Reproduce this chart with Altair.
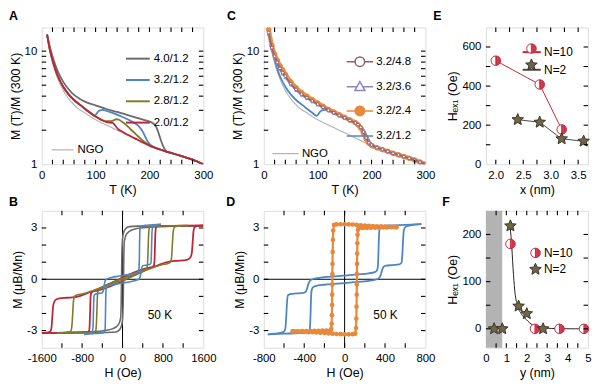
import math
import altair as alt
import pandas as pd

FONT = "Liberation Sans"
W1, W3, H = 163, 103, 138
TICK_LEN = 4.5  # px, inward tick length

# ---------------- colours ----------------
C_G, C_BL, C_OL, C_RD, C_NGO = "#6b6b6b", "#4d86c4", "#7f7b2c", "#c02536", "#b5b5b5"
C_48, C_36, C_24 = "#8c5f74", "#8e86c3", "#e8883a"
C_E10, C_E2L, C_E2S, C_E2F = "#c8283c", "#4a4a40", "#3b3426", "#6f6547"

# ---------------- panel A / C : M(T)/M(300 K) ----------------
T_NGO = [10, 15, 20, 25, 30, 40, 50, 60, 70, 80, 90, 100, 110, 120, 130, 140, 150, 160, 170, 180,
         190, 200, 210, 220, 230, 240, 250, 260, 270, 280, 290, 300]
M_NGO = [13.8, 10.0, 7.9, 6.6, 5.7, 4.5, 3.8, 3.35, 3.05, 2.85, 2.65, 2.48, 2.34, 2.22, 2.11, 2.0,
         1.9, 1.8, 1.71, 1.62, 1.53, 1.45, 1.39, 1.34, 1.29, 1.25, 1.21, 1.17, 1.13, 1.09, 1.045, 1.0]

T_40 = [10, 15, 20, 25, 30, 40, 50, 60, 70, 80, 90, 100, 120, 140, 160, 180, 195, 205, 210, 215,
        220, 225, 230, 240, 250, 260, 270, 280, 290, 300]
M_40 = [14.0, 11.0, 9.0, 7.6, 6.6, 5.35, 4.6, 4.1, 3.8, 3.58, 3.43, 3.32, 3.08, 2.9, 2.72, 2.55,
        2.43, 2.33, 2.22, 2.0, 1.7, 1.46, 1.32, 1.26, 1.22, 1.18, 1.14, 1.1, 1.05, 1.0]

T_32 = [10, 15, 20, 25, 30, 40, 50, 60, 70, 80, 90, 98, 101, 104, 108, 113, 120, 135, 150, 165,
        180, 186, 192, 197, 202, 210, 220, 230, 240, 250, 260, 270, 280, 290, 300]
M_32 = [14.0, 10.4, 8.4, 7.0, 6.0, 4.85, 4.15, 3.7, 3.38, 3.1, 2.85, 2.68, 2.76, 2.9, 3.0, 3.02,
        2.97, 2.8, 2.62, 2.42, 2.17, 2.0, 1.76, 1.58, 1.48, 1.41, 1.35, 1.3, 1.26, 1.22, 1.18,
        1.14, 1.1, 1.05, 1.0]

T_28 = [10, 15, 20, 25, 30, 40, 50, 60, 70, 80, 90, 100, 110, 115, 120, 127, 133, 138, 143, 150,
        157, 165, 175, 185, 193, 200, 210, 220, 230, 240, 250, 260, 270, 280, 290, 300]
M_28 = [14.0, 10.4, 8.4, 7.0, 6.0, 4.85, 4.15, 3.7, 3.38, 3.1, 2.85, 2.64, 2.48, 2.42, 2.4, 2.4,
        2.44, 2.5, 2.48, 2.36, 2.22, 2.04, 1.84, 1.66, 1.55, 1.47, 1.4, 1.35, 1.3, 1.26, 1.22,
        1.18, 1.14, 1.1, 1.05, 1.0]

T_20 = [10, 15, 20, 25, 30, 40, 50, 60, 70, 80, 90, 100, 110, 120, 127, 132, 137, 142, 150, 160,
        170, 180, 190, 200, 210, 220, 230, 240, 250, 260, 270, 280, 290, 300]
M_20 = [14.0, 10.4, 8.4, 7.0, 6.0, 4.85, 4.15, 3.7, 3.38, 3.1, 2.85, 2.64, 2.48, 2.36, 2.33, 2.32,
        2.18, 2.04, 1.94, 1.82, 1.72, 1.63, 1.54, 1.46, 1.4, 1.35, 1.3, 1.26, 1.22, 1.18, 1.14,
        1.1, 1.05, 1.0]

T_C = [9, 15, 20, 25, 30, 35, 40, 50, 60, 70, 80, 90, 100, 110, 120, 130, 140, 150, 160, 170,
       175, 180, 185, 190, 195, 200, 210, 220, 230, 240, 250, 260, 270, 280, 290, 300]
M_24 = [15.5, 11.2, 9.4, 8.3, 7.4, 6.8, 6.25, 5.35, 4.75, 4.3, 3.98, 3.72, 3.48, 3.25, 3.05, 2.89,
        2.74, 2.6, 2.46, 2.33, 2.23, 2.09, 1.89, 1.67, 1.54, 1.47, 1.4, 1.35, 1.3, 1.25, 1.21,
        1.17, 1.13, 1.09, 1.045, 1.0]
M_36 = [14.2, 10.5, 8.8, 7.8, 6.9, 6.3, 5.85, 5.05, 4.5, 4.1, 3.82, 3.58, 3.36, 3.16, 2.98, 2.83,
        2.69, 2.56, 2.44, 2.33, 2.26, 2.16, 1.98, 1.76, 1.58, 1.49, 1.41, 1.35, 1.3, 1.25, 1.21,
        1.17, 1.13, 1.09, 1.045, 1.0]
M_48 = [14.6, 10.7, 9.0, 7.95, 7.05, 6.45, 6.0, 5.15, 4.58, 4.16, 3.88, 3.63, 3.4, 3.19, 3.0, 2.85,
        2.7, 2.57, 2.44, 2.32, 2.24, 2.12, 1.93, 1.71, 1.55, 1.48, 1.4, 1.35, 1.3, 1.25, 1.21,
        1.17, 1.13, 1.09, 1.045, 1.0]

A_NAMES = ["4.0/1.2", "3.2/1.2", "2.8/1.2", "2.0/1.2"]
C_NAMES = ["3.2/4.8", "3.2/3.6", "3.2/2.4", "3.2/1.2"]

# tick positions
T_TICKS = list(range(20, 300, 20))
M_TICKS = [2, 3, 4, 5, 6, 7, 8, 9, 10]

# ---------------- panel B / D : hysteresis loops at 50 K ----------------
HG_up = [-1600, -800, -300, -130, -60, -20, 0, 12, 20, 27, 37, 80, 200, 410, 800, 1600]
MG_up = [-3.13, -3.12, -3.11, -3.08, -2.95, -2.72, -2.35, -1.5, 0.0, 1.5, 2.25, 2.65, 2.9, 3.02, 3.08, 3.13]
HG_dn = [1600, 800, 300, 130, 60, 20, 0, -12, -20, -27, -37, -80, -200, -410, -800, -1600]
MG_dn = [3.13, 3.12, 3.11, 3.08, 2.95, 2.72, 2.35, 1.5, 0.0, -1.5, -2.25, -2.65, -2.9, -3.02, -3.08, -3.13]

HB_up = [-760, -600, -450, -370, -350, -342, -337, -333, -328, -318, -290, -200, -100, 0, 100, 200,
         270, 320, 345, 360, 372, 385, 410, 480, 540, 562, 572, 579, 586, 600, 640, 760]
MB_up = [-3.22, -3.18, -3.15, -3.12, -3.05, -2.7, -2.0, -1.2, -0.7, -0.5, -0.4, -0.32, -0.27, -0.22,
         -0.17, -0.12, -0.06, 0.0, 0.1, 0.3, 0.55, 0.72, 0.8, 0.83, 0.87, 0.95, 1.5, 2.3, 2.85, 3.05,
         3.14, 3.22]
HB_dn = [760, 600, 450, 370, 350, 342, 337, 333, 328, 318, 290, 200, 100, 0, -100, -200,
         -270, -320, -345, -360, -372, -385, -410, -480, -540, -562, -572, -579, -586, -600, -640, -760]
MB_dn = [3.22, 3.18, 3.15, 3.12, 3.05, 2.7, 2.0, 1.2, 0.7, 0.5, 0.4, 0.32, 0.27, 0.22,
         0.17, 0.12, 0.06, 0.0, -0.1, -0.3, -0.55, -0.72, -0.8, -0.83, -0.87, -0.95, -1.5, -2.3, -2.85,
         -3.05, -3.14, -3.22]

HO_up = [-1300, -1000, -700, -560, -530, -515, -505, -495, -480, -400, -200, 0, 200, 400, 600, 780,
         900, 950, 975, 990, 1005, 1030, 1100, 1300]
MO_up = [-3.14, -3.13, -3.11, -3.1, -3.0, -2.5, -1.6, -0.9, -0.65, -0.5, -0.25, -0.05, 0.18, 0.45,
         0.68, 0.85, 0.92, 1.0, 1.4, 2.2, 2.8, 3.05, 3.1, 3.14]
HO_dn = [1300, 1000, 700, 560, 530, 515, 505, 495, 480, 400, 200, 0, -200, -400, -600, -780,
         -900, -950, -975, -990, -1005, -1030, -1100, -1300]
MO_dn = [3.14, 3.13, 3.11, 3.1, 3.0, 2.5, 1.6, 0.9, 0.65, 0.5, 0.25, 0.05, -0.18, -0.45,
         -0.68, -0.85, -0.92, -1.0, -1.4, -2.2, -2.8, -3.05, -3.1, -3.14]

HR_up = [-1600, -1200, -800, -690, -660, -648, -640, -632, -620, -590, -500, -400, -300, -150, 0,
         150, 300, 500, 700, 850, 950, 1100, 1250, 1330, 1370, 1390, 1405, 1430, 1500, 1600]
MR_up = [-3.15, -3.13, -3.12, -3.1, -3.0, -2.5, -1.7, -1.0, -0.8, -0.72, -0.66, -0.58, -0.48, -0.3,
         -0.1, 0.12, 0.32, 0.6, 0.82, 0.98, 1.05, 1.08, 1.12, 1.22, 1.5, 2.2, 2.8, 3.05, 3.12, 3.15]
HR_dn = [1600, 1200, 800, 690, 660, 648, 640, 632, 620, 590, 500, 400, 300, 150, 0,
         -150, -300, -500, -700, -850, -950, -1100, -1250, -1330, -1370, -1390, -1405, -1430, -1500, -1600]
MR_dn = [3.15, 3.13, 3.12, 3.1, 3.0, 2.5, 1.7, 1.0, 0.8, 0.72, 0.66, 0.58, 0.48, 0.3,
         0.1, -0.12, -0.32, -0.6, -0.82, -0.98, -1.05, -1.08, -1.12, -1.22, -1.5, -2.2, -2.8, -3.05,
         -3.12, -3.15]

HOr_dn = [514, 480, 440, 400, 360, 320, 280, 240, 200, 160, 120, 80, 40, 0, -40, -80, -105, -113,
          -116, -118, -120, -121, -122, -123, -124, -126, -128, -132, -140, -180, -220, -260, -300,
          -340, -380, -420, -460, -500, -514]
MOr_dn = [3.05, 3.06, 3.07, 3.08, 3.09, 3.1, 3.11, 3.12, 3.14, 3.16, 3.18, 3.2, 3.21, 3.22, 3.22,
          3.21, 3.18, 2.85, 2.3, 1.6, 0.9, 0.3, -0.3, -0.9, -1.5, -2.1, -2.6, -2.9, -2.98, -3.0,
          -3.0, -3.01, -3.02, -3.02, -3.03, -3.03, -3.04, -3.05, -3.05]
HOr_up = [-514, -480, -440, -400, -360, -320, -280, -240, -200, -160, -120, -80, -40, 0, 40, 80, 105,
          113, 116, 118, 120, 121, 122, 123, 124, 126, 128, 132, 140, 180, 220, 260, 300,
          340, 380, 420, 460, 500, 514]
MOr_up = [-3.05, -3.06, -3.07, -3.08, -3.09, -3.1, -3.11, -3.12, -3.14, -3.16, -3.18, -3.2, -3.21,
          -3.22, -3.22, -3.21, -3.18, -2.85, -2.3, -1.6, -0.9, -0.3, 0.3, 0.9, 1.5, 2.1, 2.6, 2.9,
          2.98, 3.0, 3.0, 3.01, 3.02, 3.02, 3.03, 3.03, 3.04, 3.05, 3.05]

M_LOOP_TICKS = [-3, -2, -1, 0, 1, 2, 3]

# ---------------- panel E / F : exchange field ----------------
E_X10, E_Y10 = [2.0, 2.8, 3.2], [530, 408, 178]
E_X2, E_Y2 = [2.4, 2.8, 3.2, 3.6], [228, 215, 130, 118]
F_X10, F_Y10 = [1.2, 2.4, 3.6, 4.8], [180, 0, 0, 0]
F_X2, F_Y2 = [0.4, 0.8, 1.2, 1.6, 2.0, 2.8], [0, 0, 218, 48, 32, 0]
FIT_X = [1.17, 1.25, 1.33, 1.41, 1.54, 1.73, 1.97, 2.29, 2.76, 3.2, 3.71, 4.4, 5.0]
FIT_Y = [222, 185, 128, 82, 50, 32, 20, 8, 2.5, 0.8, 0.2, 0, 0]
E_XTICKS = [2.0, 2.25, 2.5, 2.75, 3.0, 3.25, 3.5]
E_YTICKS = [100, 200, 300, 400, 500, 600]
F_XTICKS = [0.5, 1, 1.5, 2, 2.5, 3, 3.5, 4, 4.5]
F_YTICKS = [0, 50, 100, 150, 200]

# marker paths (unit square)
HALF = ("M-0.78,0A0.78,0.78 0 1,1 0.78,0A0.78,0.78 0 1,1 -0.78,0Z "
        "M0,-0.78V0.78 M0.12,-0.771V0.771 M0.24,-0.742V0.742 M0.36,-0.692V0.692 "
        "M0.48,-0.615V0.615 M0.6,-0.498V0.498 M0.72,-0.3V0.3")
STAR = ("M0,-1L0.265,-0.364L0.951,-0.309L0.428,0.139L0.588,0.809L0,0.45L-0.588,0.809"
        "L-0.428,0.139L-0.951,-0.309L-0.265,-0.364Z")
# legend keys of panel C: line with marker on it
KEY_CIRC = ("M-1,0H-0.36M0.36,0H1M-0.36,0A0.36,0.36 0 1,1 0.36,0"
            "A0.36,0.36 0 1,1 -0.36,0Z")
KEY_TRI = "M-1,0H-0.22M0.22,0H1M0,-0.4L0.38,0.27L-0.38,0.27Z"
KEY_LINE = "M-1,0H1"


# ---------------- helpers ----------------
def frame_axis(values, expr, title, tpad=3):
    return alt.Axis(values=values, labelExpr=expr, title=title, grid=False,
                    ticks=False, domain=False, labelFont=FONT, labelFontSize=11.5,
                    labelColor="black", labelPadding=5, labelFlush=False, labelOverlap=False,
                    titleFont=FONT, titleFontSize=12.5, titleFontWeight="normal",
                    titleColor="black", titlePadding=tpad)


def edge_ticks(x, y, xf, yf, xticks, yticks, xdom, ydom, w, ylog=False):
    """Short inward tick segments on all four frame edges at the given tick values."""
    dx = TICK_LEN * (xdom[1] - xdom[0]) / w
    if ylog:
        f = 10 ** (TICK_LEN * math.log10(ydom[1] / ydom[0]) / H)
        y_in = [ydom[0] * f, ydom[1] / f]
    else:
        dy = TICK_LEN * (ydom[1] - ydom[0]) / H
        y_in = [ydom[0] + dy, ydom[1] - dy]
    nx, ny = len(xticks), len(yticks)
    seg = pd.DataFrame({
        xf: xticks * 2 + [xdom[0]] * ny + [xdom[1]] * ny,
        xf + "2": xticks * 2 + [xdom[0] + dx] * ny + [xdom[1] - dx] * ny,
        yf: [ydom[0]] * nx + [ydom[1]] * nx + yticks * 2,
        yf + "2": [y_in[0]] * nx + [y_in[1]] * nx + yticks * 2,
    })
    return alt.Chart(seg).mark_rule(color="#000000", strokeWidth=1.1, opacity=1).encode(
        x=x, x2=alt.X2(xf + "2"), y=y, y2=alt.Y2(yf + "2"))


def line_legend(x, y, size, pad=2.5, offset=3, fs=11.5, color=None):
    kw = dict(orient="none", legendX=x, legendY=y, title=None, symbolType="stroke",
              symbolSize=size, symbolStrokeWidth=2, labelFont=FONT, labelFontSize=fs,
              labelColor="black", labelOffset=offset, rowPadding=pad, padding=0)
    if color:
        kw["symbolStrokeColor"] = color
        kw["symbolStrokeWidth"] = 1.4
    return alt.Legend(**kw)


def mark_legend(x, y, size, pad, show=False, offset=2, fs=11.5, sw=1.3):
    kw = dict(orient="none", legendX=x, legendY=y, title=None, symbolSize=size,
              symbolStrokeWidth=sw, labelFont=FONT, labelFontSize=fs, labelColor="black",
              labelOffset=offset, rowPadding=pad, padding=0)
    if not show:
        kw["labelExpr"] = "''"
    return alt.Legend(**kw)


def letter(t, dx, dy):
    return alt.TitleParams(text=t, anchor="start", frame="group", orient="top", offset=0,
                           dx=dx, dy=dy, baseline="alphabetic", font=FONT, fontSize=12.5,
                           fontWeight="bold", color="black")


def mt(name, T, M):
    return pd.DataFrame({"T": T, "M": M, "s": name})


def loop(up_h, up_m, dn_h, dn_m):
    return pd.concat([pd.DataFrame({"H": up_h, "M": up_m, "b": "up"}),
                      pd.DataFrame({"H": dn_h, "M": dn_m, "b": "dn"})])


def mt_axes():
    x = alt.X("T:Q", scale=alt.Scale(domain=[0, 300], nice=False, zero=False),
              axis=frame_axis([0, 100, 200, 300], "'' + datum.value", "T (K)"))
    y = alt.Y("M:Q", scale=alt.Scale(type="log", domain=[1, 16.2], nice=False),
              axis=frame_axis([1, 10], "'' + datum.value", "M (T)/M (300 K)", tpad=2))
    return x, y


def ngo_layer(x, y, lx, ly, size, offset):
    return alt.Chart(mt("NGO", T_NGO, M_NGO)).mark_line(
        color=C_NGO, strokeWidth=1.2, clip=True, interpolate="monotone").encode(
        x=x, y=y,
        strokeDash=alt.StrokeDash("s:N", scale=alt.Scale(domain=["NGO"], range=[[1, 0]]),
                                  legend=line_legend(lx, ly, size, offset=offset, color=C_NGO)))


# ---------------- panel A ----------------
xA, yA = mt_axes()
colA = alt.Color("s:N", scale=alt.Scale(domain=A_NAMES, range=[C_G, C_BL, C_OL, C_RD]),
                 legend=line_legend(84, 18.5, 576))
A_lines = [alt.Chart(mt(n, T, M)).mark_line(strokeWidth=1.8, clip=True, interpolate="monotone")
           .encode(x=xA, y=yA, color=colA)
           for n, T, M in [("4.0/1.2", T_40, M_40), ("3.2/1.2", T_32, M_32),
                           ("2.8/1.2", T_28, M_28), ("2.0/1.2", T_20, M_20)]]
panelA = alt.layer(
    ngo_layer(xA, yA, 9, 111.5, 484, 3), *A_lines,
    edge_ticks(xA, yA, "T", "M", T_TICKS, M_TICKS, [0, 300], [1, 16.2], W1, ylog=True)).properties(
    width=W1, height=H, title=letter("A", -33, 6))

# ---------------- panel C ----------------
xC, yC = mt_axes()


def c_line(T, M, color, w, op=1.0):
    return alt.Chart(pd.DataFrame({"T": T, "M": M})).mark_line(
        color=color, strokeWidth=w, clip=True, opacity=op, interpolate="monotone").encode(x=xC, y=yC)


def c_pts(T, M, shape, stroke, fill, size):
    return alt.Chart(pd.DataFrame({"T": T, "M": M})).mark_point(
        shape=shape, stroke=stroke, fill=fill, fillOpacity=1, strokeOpacity=1, opacity=1,
        strokeWidth=1, size=size, clip=True).encode(x=xC, y=yC)


# legend keys (line with marker on it) from the series names; this layer draws no marks itself
c_key_df = pd.DataFrame({"T": [-1] * 4, "M": [1] * 4, "s": C_NAMES})
legC = alt.Legend(orient="none", legendX=82.4, legendY=20.1, title=None, symbolSize=708,
                  symbolStrokeWidth=1.5, labelFont=FONT, labelFontSize=11.5, labelColor="black",
                  labelOffset=2, rowPadding=2.3, padding=0)
c_keys = alt.Chart(c_key_df).transform_filter("datum.T >= 0").mark_point(opacity=1).encode(
    x=xC, y=yC,
    stroke=alt.Stroke("s:N", scale=alt.Scale(domain=C_NAMES, range=[C_48, C_36, C_24, C_BL]),
                      legend=legC),
    fill=alt.Fill("s:N", scale=alt.Scale(domain=C_NAMES,
                                         range=["white", "white", C_24, "transparent"]),
                  legend=legC),
    shape=alt.Shape("s:N", scale=alt.Scale(domain=C_NAMES,
                                           range=[KEY_CIRC, KEY_TRI, KEY_CIRC, KEY_LINE]),
                    legend=legC))

panelC = alt.layer(
    ngo_layer(xC, yC, 7.4, 112.8, 708, 2),
    c_line(T_32, M_32, C_BL, 1.8),
    c_line(T_C, M_24, C_24, 4.5, 0.9),
    c_pts(T_C, M_24, "circle", C_24, C_24, 22),
    c_line(T_C, M_36, C_36, 1.6, 0.9),
    c_pts(T_C, M_36, "triangle-up", C_36, "white", 8),
    c_line(T_C, M_48, C_48, 1.6, 0.85),
    c_pts(T_C, M_48, "circle", C_48, "white", 8),
    c_keys,
    edge_ticks(xC, yC, "T", "M", T_TICKS, M_TICKS, [0, 300], [1, 16.2], W1, ylog=True),
).properties(width=W1, height=H, title=letter("C", -37, 6))


# ---------------- panels B and D ----------------
def loop_axes(hmax, lab):
    x = alt.X("H:Q", scale=alt.Scale(domain=[-hmax, hmax], nice=False, zero=False),
              axis=frame_axis(list(range(-hmax, hmax + 1, lab)), "'' + datum.value", "H (Oe)"))
    y = alt.Y("M:Q", scale=alt.Scale(domain=[-4, 4], nice=False, zero=False),
              axis=frame_axis([-3, 0, 3], "'' + datum.value", "M (μB/Mn)", tpad=2))
    return x, y


def zero_lines(x, y):
    return [alt.Chart(pd.DataFrame({"H": [0]})).mark_rule(color="black", strokeWidth=1).encode(x=x),
            alt.Chart(pd.DataFrame({"M": [0]})).mark_rule(color="black", strokeWidth=1).encode(y=y)]


def loop_line(df, color, x, y, width=1.6, interp="monotone"):
    return alt.Chart(df).mark_line(color=color, strokeWidth=width, clip=True,
                                   interpolate=interp).encode(x=x, y=y, detail="b:N")


xB, yB = loop_axes(1600, 800)
panelB = alt.layer(
    *zero_lines(xB, yB),
    loop_line(loop(HG_up, MG_up, HG_dn, MG_dn), C_G, xB, yB),
    loop_line(loop(HR_up, MR_up, HR_dn, MR_dn), C_RD, xB, yB, 1.8),
    loop_line(loop(HO_up, MO_up, HO_dn, MO_dn), C_OL, xB, yB),
    loop_line(loop(HB_up, MB_up, HB_dn, MB_dn), C_BL, xB, yB),
    alt.Chart(pd.DataFrame({"H": [740], "M": [-2.1], "t": ["50 K"]})).mark_text(
        font=FONT, fontSize=12, color="black").encode(x=xB, y=yB, text="t:N"),
    edge_ticks(xB, yB, "H", "M", list(range(-1200, 1201, 400)), M_LOOP_TICKS,
               [-1600, 1600], [-4, 4], W1),
).properties(width=W1, height=H, title=letter("B", -33, 8))

xD, yD = loop_axes(800, 400)
orange_loop = loop(HOr_up, MOr_up, HOr_dn, MOr_dn)
panelD = alt.layer(
    *zero_lines(xD, yD),
    loop_line(loop(HB_up, MB_up, HB_dn, MB_dn), C_BL, xD, yD, 1.8),
    loop_line(orange_loop, C_24, xD, yD, 2.2, "linear"),
    alt.Chart(orange_loop).mark_circle(color=C_24, size=22, opacity=1, clip=True).encode(x=xD, y=yD),
    alt.Chart(pd.DataFrame({"H": [405], "M": [-2.1], "t": ["50 K"]})).mark_text(
        font=FONT, fontSize=12, color="black").encode(x=xD, y=yD, text="t:N"),
    edge_ticks(xD, yD, "H", "M", list(range(-600, 601, 200)), M_LOOP_TICKS,
               [-800, 800], [-4, 4], W1),
).properties(width=W1, height=H, title=letter("D", -38, 8))

# ---------------- panel E ----------------
xE = alt.X("x:Q", scale=alt.Scale(domain=[1.82, 3.68], nice=False, zero=False),
           axis=frame_axis([2.0, 2.5, 3.0, 3.5], "format(datum.value, '.1f')", "x (nm)"))
yE = alt.Y("y:Q", scale=alt.Scale(domain=[0, 700], nice=False),
           axis=frame_axis([0, 200, 400, 600], "'' + datum.value", "Hₑₓ₁ (Oe)", tpad=2))
e_lines = pd.concat([pd.DataFrame({"x": E_X10, "y": E_Y10, "s": "N=10"}),
                     pd.DataFrame({"x": E_X2, "y": E_Y2, "s": "N=2"})])


def nf_points(df, x, y, leg):
    return alt.Chart(df).mark_point(opacity=1, strokeWidth=1, size=150, clip=False).encode(
        x=x, y=y,
        stroke=alt.Stroke("s:N", scale=alt.Scale(range=[C_E10, C_E2S]), legend=leg),
        fill=alt.Fill("s:N", scale=alt.Scale(range=["white", C_E2F]), legend=leg),
        shape=alt.Shape("s:N", scale=alt.Scale(range=[HALF, STAR]), legend=leg))


panelE = alt.layer(
    alt.Chart(e_lines).mark_line(strokeWidth=1, clip=True).encode(
        x=xE, y=yE, color=alt.Color("s:N", scale=alt.Scale(domain=["N=10", "N=2"],
                                                           range=[C_E10, C_E2L]),
                                    legend=line_legend(35.7, 14.4, 335, pad=0.8, offset=2, fs=12))),
    nf_points(e_lines, xE, yE, mark_legend(38.9, 14.3, 150, 0.6, fs=12, sw=1)),
    edge_ticks(xE, yE, "x", "y", E_XTICKS, E_YTICKS, [1.82, 3.68], [0, 700], W3),
).properties(width=W3, height=H, title=letter("E", -53, 6))

# ---------------- panel F ----------------
sFx = alt.Scale(domain=[0, 5], nice=False, zero=False)
sFy = alt.Scale(domain=[-40, 250], nice=False, zero=False)
axFx = frame_axis([0, 1, 2, 3, 4, 5], "'' + datum.value", "y (nm)")
axFy = frame_axis([0, 100, 200], "'' + datum.value", "Hₑₓ₁ (Oe)", tpad=2)
xF = alt.X("x:Q", scale=sFx, axis=axFx)
yF = alt.Y("y:Q", scale=sFy, axis=axFy)
f_pts = pd.concat([pd.DataFrame({"x": F_X10, "y": F_Y10, "s": "N=10"}),
                   pd.DataFrame({"x": F_X2, "y": F_Y2, "s": "N=2"})])
panelF = alt.layer(
    alt.Chart(pd.DataFrame({"a": [0], "b": [0.8], "c": [-40], "d": [250]})).mark_rect(
        color="#b3b3b3").encode(x=alt.X("a:Q", scale=sFx, axis=axFx), x2="b:Q",
                                y=alt.Y("c:Q", scale=sFy, axis=axFy), y2="d:Q"),
    alt.Chart(pd.DataFrame({"x": FIT_X, "y": FIT_Y})).mark_line(
        color="#222222", strokeWidth=1, interpolate="monotone", clip=True).encode(x=xF, y=yF),
    nf_points(f_pts, xF, yF, mark_legend(43, 35.4, 150, 0.6, show=True, offset=1.5, fs=12, sw=1)),
    edge_ticks(xF, yF, "x", "y", F_XTICKS, F_YTICKS, [0, 5], [-40, 250], W3),
).properties(width=W3, height=H, title=letter("F", -44, 8))

# ---------------- assemble ----------------
chart = alt.concat(panelA, panelC, panelE, panelB, panelD, panelF, columns=3,
                   spacing={"row": 47, "column": 61}, bounds="flush").resolve_scale(
    color="independent", fill="independent", stroke="independent", shape="independent",
    strokeDash="independent"
).properties(padding=0).configure_view(stroke="black", strokeWidth=1).configure(font=FONT)

chart.save("out.html", embed_options={"renderer": "svg", "actions": False})
